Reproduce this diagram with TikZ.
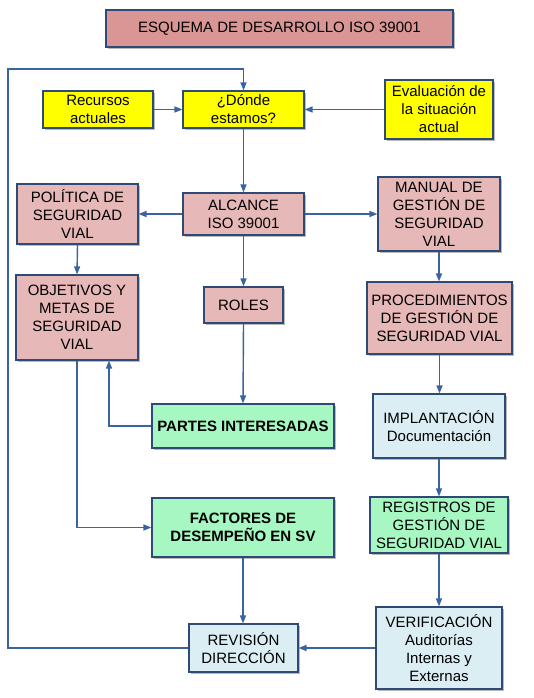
\documentclass[tikz,border=0pt]{standalone}
\usepackage{fontspec}
\setmainfont{Liberation Sans}
\usetikzlibrary{arrows.meta,shadows,calc}
\definecolor{bordc}{RGB}{47,74,118}
\definecolor{arrc}{RGB}{58,100,160}
\definecolor{titlec}{RGB}{217,150,148}
\definecolor{pinkc}{RGB}{230,184,183}
\definecolor{yelc}{RGB}{255,255,0}
\definecolor{greenc}{RGB}{166,247,194}
\definecolor{bluec}{RGB}{219,238,243}
\tikzset{
  box/.style={draw=bordc, line width=1.1pt, align=center, inner sep=1pt,
    font=\fontsize{15}{18}\selectfont,
    drop shadow={shadow xshift=2pt, shadow yshift=-2pt, opacity=0.45, fill=black!60}},
  pinkbox/.style={box, fill=pinkc},
  titlebox/.style={box, fill=titlec},
  yelbox/.style={box, fill=yelc},
  greenbox/.style={box, fill=greenc, font=\fontsize{15}{18}\selectfont\bfseries},
  bluebox/.style={box, fill=bluec},
  arr/.style={draw=arrc, line width=1.4pt, -{Triangle[length=8pt,width=6pt]}},
}
\begin{document}
\begin{tikzpicture}[x=1pt,y=-1pt]
\useasboundingbox (0,0) rectangle (534,698);
\fill[white] (0,0) rectangle (534,698);

\node[titlebox, minimum width=347pt, minimum height=37pt] (title) at (279.5,28.5) {ESQUEMA DE DESARROLLO ISO 39001};

\node[yelbox, minimum width=110pt, minimum height=37pt] (recursos) at (98,109.5) {Recursos\\actuales};
\node[yelbox, minimum width=121pt, minimum height=37pt] (donde) at (243.5,109.5) {¿Dónde\\estamos?};
\node[yelbox, minimum width=108pt, minimum height=59pt] (eval) at (439,109.5) {Evaluación de\\la situación\\actual};

\node[pinkbox, minimum width=121pt, minimum height=42pt] (alcance) at (243.5,214) {ALCANCE\\ISO 39001};
\node[pinkbox, minimum width=121pt, minimum height=60pt] (politica) at (77.5,214) {POLÍTICA DE\\SEGURIDAD\\VIAL};
\node[pinkbox, minimum width=122pt, minimum height=74pt] (manual) at (439,214) {MANUAL DE\\GESTIÓN DE\\SEGURIDAD\\VIAL};

\node[pinkbox, minimum width=122pt, minimum height=85pt] (objetivos) at (77,317.5) {OBJETIVOS Y\\METAS DE\\SEGURIDAD\\VIAL};
\node[pinkbox, minimum width=79pt, minimum height=36pt] (roles) at (243.5,305) {ROLES};
\node[pinkbox, minimum width=145pt, minimum height=72pt] (proced) at (439.5,318) {PROCEDIMIENTOS\\DE GESTIÓN DE\\SEGURIDAD VIAL};

\node[greenbox, minimum width=182pt, minimum height=44pt] (partes) at (243,426) {PARTES INTERESADAS};
\node[bluebox, minimum width=132pt, minimum height=64pt] (implant) at (439,426) {IMPLANTACIÓN\\Documentación};

\node[greenbox, minimum width=182pt, minimum height=59pt] (factores) at (243,527.5) {FACTORES DE\\DESEMPEÑO EN SV};
\node[pinkbox, fill=greenc, minimum width=138pt, minimum height=56pt] (registros) at (439,525) {REGISTROS DE\\GESTIÓN DE\\SEGURIDAD VIAL};

\node[bluebox, minimum width=109pt, minimum height=48pt] (revision) at (243.5,648) {REVISIÓN\\DIRECCIÓN};
\node[bluebox, minimum width=126pt, minimum height=82pt] (verif) at (439,648) {VERIFICACIÓN\\Auditorías\\Internas y\\Externas};

\coordinate (loopL) at (8,69);

\draw[arr] (recursos.east) -- (donde.west);
\draw[arr] (eval.west) -- (donde.east);
\draw[arr] (donde.south) -- (alcance.north);
\draw[arr] (alcance.west) -- (politica.east);
\draw[arr] (alcance.east) -- (manual.west);
\draw[arr] (politica.south) -- (objetivos.north);
\draw[arr] (alcance.south) -- (roles.north);
\draw[arr] (roles.south) -- (partes.north);
\draw[arr] (manual.south) -- (manual.south |- proced.north);
\draw[arr] (proced.south) -- (proced.south |- implant.north);
\draw[arr] (implant.south) -- (registros.north);
\draw[arr] (registros.south) -- (verif.north);
\draw[arr] (partes.west) -| ($(objetivos.south)+(32,0)$);
\draw[arr] (objetivos.south) |- (factores.west);
\draw[arr] (factores.south) -- (factores.south |- revision.north);
\draw[arr] (verif.west) -- (verif.west -| revision.east);
\draw[arr] (revision.west) -| (loopL) -| (donde.north);
\end{tikzpicture}
\end{document}
